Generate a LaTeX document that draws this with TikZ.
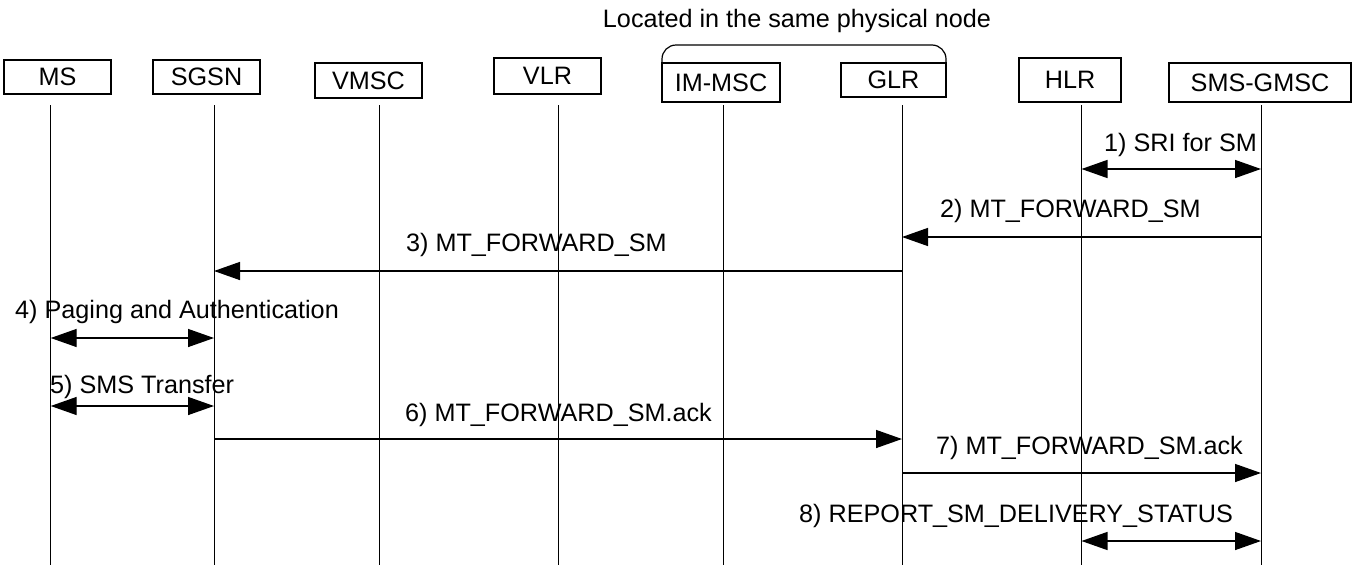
\documentclass[tikz,border=0pt]{standalone}
\usepackage{fontspec}
\setmainfont{Liberation Sans}
\usetikzlibrary{arrows.meta, positioning}
\tikzset{
  entity/.style={
    rectangle,
    draw=black,
    line width = 1.2pt,
    minimum width=107pt,
    minimum height=34pt,
    inner sep=0pt,
    outer sep=0pt,
  },
  lifeline/.style={
    line width = 0.9pt,
    draw=black,
  },
  msg/.style={
    line width = 1.4pt,
    ->,
    > = {Triangle[length=26pt,width=18pt]},
    draw=black,
  },
  bimsg/.style={
    msg,
    <->,
  },
  msglabel/.style={
    anchor=base west,
    inner sep=0pt,
  },
  bracket/.style={
    line width = 1.2pt,
    rounded corners=14pt,
  },
}
\begin{document}
\begin{tikzpicture}[x=1pt, y=-1pt, font=\fontsize{25.2}{30}\selectfont]
    \useasboundingbox (0,0) rectangle (1360,565);
    % entities
    \node (ms) [entity] at (57.5,77) {MS};
    \node (sgsn) [entity, right=42pt of ms] {SGSN};
    \node (vmsc) [entity, minimum height=35pt, right=55pt of sgsn, yshift=-3.5pt] {VMSC};
    \node (vlr) [entity, minimum height=36pt, right=72pt of vmsc, yshift=4.5pt] {VLR};
    \node (immsc) [entity, minimum width=118pt, minimum height=39pt, right=61pt of vlr, yshift=-6.5pt] {IM-MSC};
    \node (glr) [entity, minimum width=105pt, right=61pt of immsc, yshift=2.5pt] {GLR};
    \node (hlr) [entity, minimum width=102pt, minimum height=44pt, right=73pt of glr] {HLR};
    \node (gmsc) [entity, minimum width=182pt, minimum height=39pt, right=48pt of hlr, yshift=-2.5pt] {SMS-GMSC};
    % same physical node
    \coordinate (brtop) at (0,45);
    \draw [bracket] (immsc.north west) -- (immsc.north west |- brtop) -- (glr.north east |- brtop) -- (glr.north east);
    \node (same) [anchor=base] at (797,27) {Located in the same physical node};
    % lifelines
    \foreach \n/\x in {ms/50.7, sgsn/214, vmsc/379, vlr/558, immsc/723, glr/902, hlr/1081.5, gmsc/1261}{
      \coordinate (\n-top) at (\x,105);
      \coordinate (\n-bot) at (\x,565);
      \draw [lifeline] (\n-top) -- (\n-bot);
    }
    \foreach \m/\y in {1/169, 2/237, 3/271, 4/338, 5/406, 6/439, 7/473, 8/541}
      \coordinate (m\m) at (0,\y);
    % messages
    \draw [bimsg] (hlr-top |- m1) -- (gmsc-top |- m1);
    \draw [msg] (gmsc-top |- m2) -- (glr-top |- m2);
    \draw [msg] (glr-top |- m3) -- (sgsn-top |- m3);
    \draw [bimsg] (ms-top |- m4) -- (sgsn-top |- m4);
    \draw [bimsg] (ms-top |- m5) -- (sgsn-top |- m5);
    \draw [msg] (sgsn-top |- m6) -- (glr-top |- m6);
    \draw [msg] (glr-top |- m7) -- (gmsc-top |- m7);
    \draw [bimsg] (hlr-top |- m8) -- (gmsc-top |- m8);
    \node (l1) [msglabel] at (1104,151) {1) SRI for SM};
    \node (l2) [msglabel] at (940,217) {2) MT\_FORWARD\_SM};
    \node (l3) [msglabel] at (406,251) {3) MT\_FORWARD\_SM};
    \node (l4) [msglabel] at (15,318) {4) Paging and Authentication};
    \node (l5) [msglabel] at (50,393) {5) SMS Transfer};
    \node (l6) [msglabel] at (405,421) {6) MT\_FORWARD\_SM.ack};
    \node (l7) [msglabel] at (936,454) {7) MT\_FORWARD\_SM.ack};
    \node (l8) [msglabel] at (799,522) {8) REPORT\_SM\_DELIVERY\_STATUS};
\end{tikzpicture}
\end{document}
